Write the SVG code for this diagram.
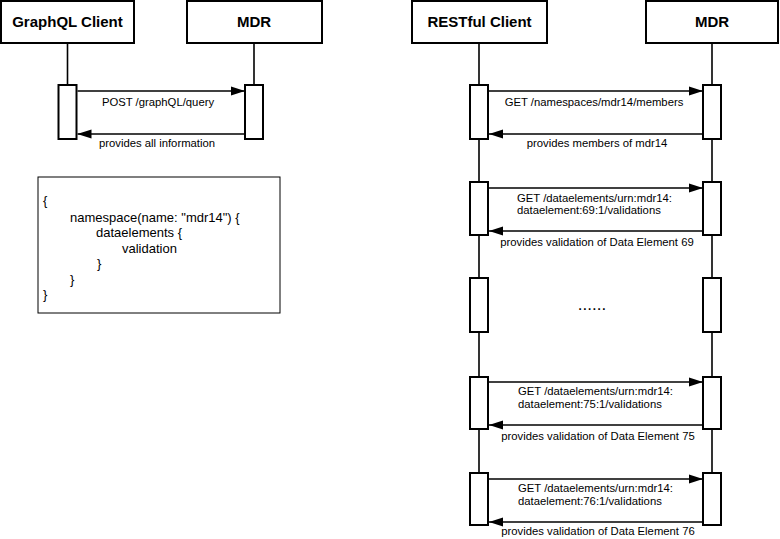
<svg xmlns="http://www.w3.org/2000/svg" width="780" height="539" viewBox="0 0 780 539">
<style>
.box{fill:#fff;stroke:#000;stroke-width:2}
.act{fill:#fff;stroke:#000;stroke-width:2}
.life{stroke:#000;stroke-width:1.6;fill:none}
.msg{stroke:#000;stroke-width:1.6;fill:none}
.title{font-family:"Liberation Sans",Arial,sans-serif;font-weight:bold;font-size:15px;text-anchor:middle;fill:#000}
.lbl{font-family:"Liberation Sans",Arial,sans-serif;font-size:11.3px;fill:#000}
.mid{text-anchor:middle}
.code{font-family:"Liberation Sans",Arial,sans-serif;font-size:13px;fill:#000}
</style>
<defs>
<marker id="ah" markerUnits="userSpaceOnUse" markerWidth="14" markerHeight="10" refX="14" refY="5" orient="auto">
<path d="M0,0.5 L14,5 L0,9.5 z" fill="#000"/>
</marker>
</defs>
<g id="lifelines">
<line class="life" x1="67.5" y1="43" x2="67.5" y2="85"/>
<line class="life" x1="254" y1="43" x2="254" y2="85"/>
<line class="life" x1="479" y1="43" x2="479" y2="525"/>
<line class="life" x1="712" y1="43" x2="712" y2="525"/>
</g>
<g id="graphql-client"><rect class="box" x="1" y="1" width="133" height="42"/><text class="title" x="67.5" y="27">GraphQL Client</text></g>
<g id="mdr-left"><rect class="box" x="187" y="1" width="135" height="42"/><text class="title" x="254" y="27">MDR</text></g>
<g id="restful-client"><rect class="box" x="412" y="1" width="135" height="42"/><text class="title" x="479.5" y="27">RESTful Client</text></g>
<g id="mdr-right"><rect class="box" x="646" y="1" width="132" height="42"/><text class="title" x="712" y="27">MDR</text></g>
<g id="activations">
<rect class="act" x="58.5" y="85" width="18" height="54"/>
<rect class="act" x="245" y="85" width="18" height="54"/>
<rect class="act" x="470" y="85" width="18" height="54"/>
<rect class="act" x="703" y="85" width="18" height="54"/>
<rect class="act" x="470" y="182" width="18" height="53"/>
<rect class="act" x="703" y="182" width="18" height="53"/>
<rect class="act" x="470" y="278" width="18" height="54"/>
<rect class="act" x="703" y="278" width="18" height="54"/>
<rect class="act" x="470" y="377" width="18" height="52"/>
<rect class="act" x="703" y="377" width="18" height="52"/>
<rect class="act" x="470" y="473" width="18" height="52"/>
<rect class="act" x="703" y="473" width="18" height="52"/>
</g>
<g id="connectors">
<line class="msg" x1="77.5" y1="91" x2="245" y2="91" marker-end="url(#ah)"/>
<line class="msg" x1="245" y1="134" x2="77.5" y2="134" marker-end="url(#ah)"/>
<line class="msg" x1="489" y1="91" x2="703" y2="91" marker-end="url(#ah)"/>
<line class="msg" x1="703" y1="134" x2="489" y2="134" marker-end="url(#ah)"/>
<line class="msg" x1="489" y1="188" x2="703" y2="188" marker-end="url(#ah)"/>
<line class="msg" x1="703" y1="231" x2="489" y2="231" marker-end="url(#ah)"/>
<line class="msg" x1="489" y1="382" x2="703" y2="382" marker-end="url(#ah)"/>
<line class="msg" x1="703" y1="425" x2="489" y2="425" marker-end="url(#ah)"/>
<line class="msg" x1="489" y1="479" x2="703" y2="479" marker-end="url(#ah)"/>
<line class="msg" x1="703" y1="522" x2="489" y2="522" marker-end="url(#ah)"/>
</g>
<g id="labels">
<text class="lbl mid" x="158" y="106">POST /graphQL/query</text>
<text class="lbl mid" x="157" y="147">provides all information</text>
<text class="lbl mid" x="594" y="106">GET /namespaces/mdr14/members</text>
<text class="lbl mid" x="597" y="147">provides members of mdr14</text>
<text class="lbl" x="517" y="202">GET /dataelements/urn:mdr14:</text>
<text class="lbl" x="517" y="214">dataelement:69:1/validations</text>
<text class="lbl mid" x="597" y="246">provides validation of Data Element 69</text>
<text class="lbl mid" x="592" y="310" style="font-size:17px">......</text>
<text class="lbl" x="518" y="395">GET /dataelements/urn:mdr14:</text>
<text class="lbl" x="518" y="408">dataelement:75:1/validations</text>
<text class="lbl mid" x="598" y="440">provides validation of Data Element 75</text>
<text class="lbl" x="518" y="492">GET /dataelements/urn:mdr14:</text>
<text class="lbl" x="518" y="505">dataelement:76:1/validations</text>
<text class="lbl mid" x="598" y="535">provides validation of Data Element 76</text>
</g>
<g id="query-box">
<rect x="38" y="177" width="242" height="136" fill="#fff" stroke="#000" stroke-width="1"/>
<text class="code" x="43" y="205">{</text>
<text class="code" x="70" y="222">namespace(name: "mdr14") {</text>
<text class="code" x="96" y="237">dataelements {</text>
<text class="code" x="122" y="253">validation</text>
<text class="code" x="97" y="268">}</text>
<text class="code" x="70" y="284">}</text>
<text class="code" x="43" y="299">}</text>
</g>
</svg>
